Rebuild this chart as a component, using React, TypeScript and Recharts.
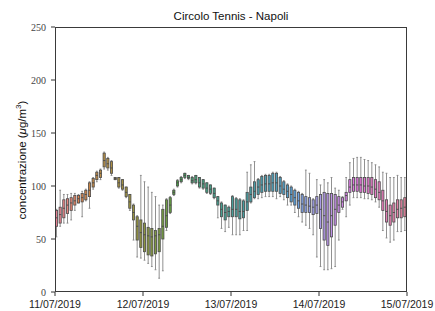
import { Bar, ComposedChart, XAxis, YAxis } from 'recharts';

// hourly boxplots, 11/07/2019 00h -> 14/07/2019 23h
const dayLabels = ['11/07/2019', '12/07/2019', '13/07/2019', '14/07/2019', '15/07/2019'];
const yTicks = [0, 50, 100, 150, 200, 250];

const whiskerLow = [
  52, 62, 65, 65, 68, 77, 84, 71, 86, 79, 97, 104, 106, 116, 115, 110,
  106, 98, 96, 89, 77, 49, 33, 32, 30, 27, 24, 21, 13, 20, 58, 74,
  91, 99, 103, 107, 106, 102, 102, 98, 97, 93, 92, 88, 70, 60, 57, 61,
  54, 54, 54, 58, 58, 84, 88, 88, 89, 90, 90, 90, 88, 90, 87, 82,
  82, 75, 71, 66, 63, 60, 54, 33, 24, 21, 21, 22, 24, 49, 78, 71,
  82, 89, 89, 89, 88, 88, 87, 85, 80, 58, 51, 47, 49, 57, 57, 58,
];
const quart1 = [
  62, 65, 70, 74, 77, 82, 84, 85, 87, 90, 99, 106, 108, 118, 117, 112,
  106, 99, 97, 90, 79, 68, 49, 42, 38, 35, 34, 36, 38, 50, 61, 75,
  92, 100, 104, 108, 107, 103, 103, 99, 98, 94, 93, 89, 82, 71, 68, 71,
  71, 71, 69, 70, 77, 85, 89, 92, 94, 95, 95, 95, 95, 93, 92, 89,
  85, 82, 79, 75, 75, 75, 73, 74, 60, 49, 44, 52, 63, 75, 80, 86,
  94, 95, 95, 94, 94, 93, 92, 89, 87, 77, 66, 63, 66, 70, 70, 71,
];
const median = [
  70, 73, 79, 82, 84, 86, 88, 89, 92, 96, 103, 110, 112, 124, 121, 117,
  107, 103, 101, 94, 85, 75, 62, 56, 54, 53, 52, 53, 54, 62, 72, 82,
  94, 103, 106, 110, 108, 105, 106, 103, 102, 98, 97, 93, 86, 78, 75, 76,
  78, 78, 76, 76, 85, 92, 95, 99, 101, 102, 102, 103, 103, 100, 97, 95,
  92, 89, 86, 83, 82, 81, 80, 82, 78, 72, 66, 72, 78, 82, 85, 91,
  99, 101, 101, 101, 100, 100, 99, 97, 94, 86, 76, 72, 75, 78, 79, 80,
];
const quart3 = [
  77, 80, 87, 88, 89, 91, 91, 93, 96, 103, 107, 113, 115, 131, 126, 123,
  108, 108, 106, 99, 92, 82, 71, 68, 65, 61, 60, 58, 60, 78, 87, 89,
  96, 105, 108, 112, 110, 108, 110, 108, 106, 103, 101, 98, 90, 84, 82, 80,
  90, 88, 87, 86, 94, 99, 104, 106, 109, 110, 110, 112, 112, 108, 104, 101,
  99, 96, 94, 92, 90, 89, 87, 90, 92, 94, 93, 93, 92, 90, 89, 94,
  106, 108, 108, 108, 108, 108, 108, 106, 104, 96, 87, 82, 84, 87, 87, 89,
];
const whiskerHigh = [
  78, 96, 92, 92, 93, 93, 92, 95, 97, 104, 108, 114, 116, 132, 127, 124,
  108, 108, 106, 99, 92, 83, 72, 110, 104, 99, 94, 90, 82, 82, 88, 90,
  97, 106, 109, 112, 110, 109, 110, 108, 106, 103, 101, 98, 90, 85, 82, 81,
  91, 89, 88, 87, 113, 120, 123, 107, 110, 111, 111, 113, 113, 109, 105, 102,
  100, 97, 95, 93, 115, 112, 88, 106, 101, 106, 103, 108, 98, 96, 90, 108,
  122, 126, 127, 127, 125, 124, 122, 120, 118, 113, 112, 108, 108, 110, 108, 108,
];

// --- seaborn-like husl palette, desaturated to .75 ---
const M = [
  [3.240969941904521, -1.537383177570093, -0.498610760293],
  [-0.96924363628087, 1.87596750150772, 0.041555057407175],
  [0.055630079696993, -0.20397695888897, 1.056971514242878],
];
const KAPPA = 903.2962962;
const EPS = 0.0088564516;
const REF_U = 0.19783000664283;
const REF_V = 0.46831999493879;

function maxChroma(L: number, H: number) {
  const hr = (H / 360) * 2 * Math.PI;
  const sub1 = Math.pow(L + 16, 3) / 1560896;
  const sub2 = sub1 > EPS ? sub1 : L / KAPPA;
  let min = Infinity;
  for (const [m1, m2, m3] of M) {
    for (const t of [0, 1]) {
      const top1 = (284517 * m1 - 94839 * m3) * sub2;
      const top2 = (838422 * m3 + 769860 * m2 + 731718 * m1) * L * sub2 - 769860 * t * L;
      const bottom = (632260 * m3 - 126452 * m2) * sub2 + 126452 * t;
      const len = top2 / bottom / (Math.sin(hr) - (top1 / bottom) * Math.cos(hr));
      if (len >= 0) min = Math.min(min, len);
    }
  }
  return min;
}

function huslToRgb(H: number, S: number, L: number) {
  const C = (maxChroma(L, H) / 100) * S;
  const hr = (H / 360) * 2 * Math.PI;
  const U = C * Math.cos(hr);
  const V = C * Math.sin(hr);
  const Y = L > 8 ? Math.pow((L + 16) / 116, 3) : L / KAPPA;
  const vu = U / (13 * L) + REF_U;
  const vv = V / (13 * L) + REF_V;
  const X = (9 * Y * vu) / (4 * vv);
  const Z = (9 * Y - 15 * vv * Y - vv * X) / (3 * vv);
  return M.map(([a, b, c]) => {
    const lin = a * X + b * Y + c * Z;
    const v = lin <= 0.0031308 ? 12.92 * lin : 1.055 * Math.pow(lin, 1 / 2.4) - 0.055;
    return Math.min(1, Math.max(0, v));
  });
}

function desaturate([r, g, b]: number[], prop: number) {
  const mx = Math.max(r, g, b);
  const mn = Math.min(r, g, b);
  const l = (mx + mn) / 2;
  if (mx === mn) return [r, g, b];
  const d = mx - mn;
  let s = l <= 0.5 ? d / (mx + mn) : d / (2 - mx - mn);
  let h = mx === r ? (g - b) / d : mx === g ? 2 + (b - r) / d : 4 + (r - g) / d;
  h = ((h / 6) % 1 + 1) % 1;
  s *= prop;
  const m2 = l <= 0.5 ? l * (1 + s) : l + s - l * s;
  const m1 = 2 * l - m2;
  const v = (hh: number) => {
    hh = ((hh % 1) + 1) % 1;
    if (hh < 1 / 6) return m1 + (m2 - m1) * hh * 6;
    if (hh < 0.5) return m2;
    if (hh < 2 / 3) return m1 + (m2 - m1) * (2 / 3 - hh) * 6;
    return m1;
  };
  return [v(h + 1 / 3), v(h), v(h - 1 / 3)];
}

const toHex = (c: number[]) =>
  '#' + c.map((v) => Math.round(v * 255).toString(16).padStart(2, '0')).join('');

const nBoxes = median.length;
const palette = median.map((_, i) => {
  const hue = ((i / nBoxes + 0.01) % 1) * 359;
  return toHex(desaturate(huslToRgb(hue, 0.9 * 99, 0.65 * 99), 0.75));
});

const data = median.map((m, i) => ({
  hour: i + 0.5,
  range: [whiskerLow[i], whiskerHigh[i]],
  lo: whiskerLow[i],
  q1: quart1[i],
  med: m,
  q3: quart3[i],
  hi: whiskerHigh[i],
  color: palette[i],
}));

const BoxShape = (props: any) => {
  const { x, y, width, height, payload } = props;
  const { lo, q1, med, q3, hi, color } = payload;
  const toY = (v: number) => y + (height * (hi - v)) / (hi - lo);
  const cx = x + width / 2;
  const bw = 2.2;
  const edge = '#4a4a4a';
  const wh = '#858585';
  return (
    <g>
      <line x1={cx} x2={cx} y1={toY(hi)} y2={toY(q3)} stroke={wh} strokeWidth={0.9} />
      <line x1={cx} x2={cx} y1={toY(q1)} y2={toY(lo)} stroke={wh} strokeWidth={0.9} />
      <line x1={cx - 0.9} x2={cx + 0.9} y1={toY(hi)} y2={toY(hi)} stroke={wh} strokeWidth={0.9} />
      <line x1={cx - 0.9} x2={cx + 0.9} y1={toY(lo)} y2={toY(lo)} stroke={wh} strokeWidth={0.9} />
      <rect
        x={cx - bw / 2}
        y={toY(q3)}
        width={bw}
        height={Math.max(toY(q1) - toY(q3), 0.5)}
        fill={color}
        stroke={edge}
        strokeWidth={0.8}
      />
      <line x1={cx - bw / 2} x2={cx + bw / 2} y1={toY(med)} y2={toY(med)} stroke={edge} strokeWidth={0.9} />
    </g>
  );
};

export default function App() {
  return (
    <div style={{ position: 'absolute', left: 0, top: 0, width: 435, height: 311, background: '#fff' }}>
      <div
        style={{
          position: 'absolute',
          left: 55,
          width: 352,
          top: 10,
          textAlign: 'center',
          fontFamily: 'Liberation Sans, Arial, sans-serif',
          fontSize: 11.5,
          color: '#111',
        }}
      >
        Circolo Tennis - Napoli
      </div>
      <div
        style={{
          position: 'absolute',
          left: 21,
          top: 160,
          transform: 'translate(-50%, -50%) rotate(-90deg)',
          whiteSpace: 'nowrap',
          fontFamily: 'Liberation Sans, Arial, sans-serif',
          fontSize: 11.5,
          color: '#111',
        }}
      >
        concentrazione (<i>μ</i>g/m<sup style={{ fontSize: 8 }}>3</sup>)
      </div>
      <ComposedChart
        width={435}
        height={311}
        data={data}
        margin={{ top: 27, right: 28, bottom: 0, left: 25 }}
      >
        <XAxis
          dataKey="hour"
          type="number"
          domain={[0, 96]}
          ticks={[0, 24, 48, 72, 96]}
          tickFormatter={(v: number) => dayLabels[v / 24]}
          axisLine={false}
          tickLine={{ stroke: '#333' }}
          tickSize={4}
          tickMargin={5}
          height={19}
          interval={0}
          allowDataOverflow
          tick={{ fontFamily: 'Liberation Sans, Arial, sans-serif', fontSize: 10.5, fill: '#222' }}
        />
        <YAxis
          type="number"
          domain={[0, 250]}
          ticks={yTicks}
          width={30}
          axisLine={false}
          tickLine={{ stroke: '#333' }}
          tickSize={4}
          tickMargin={5}
          interval={0}
          tick={{ fontFamily: 'Liberation Serif, serif', fontSize: 10, fill: '#444' }}
        />
        <Bar dataKey="range" barSize={3} shape={BoxShape} isAnimationActive={false} />
      </ComposedChart>
      <div
        style={{
          position: 'absolute',
          left: 54.5,
          top: 26.5,
          width: 352,
          height: 265,
          border: '1px solid #3a3a3a',
          boxSizing: 'border-box',
          pointerEvents: 'none',
        }}
      />
    </div>
  );
}
